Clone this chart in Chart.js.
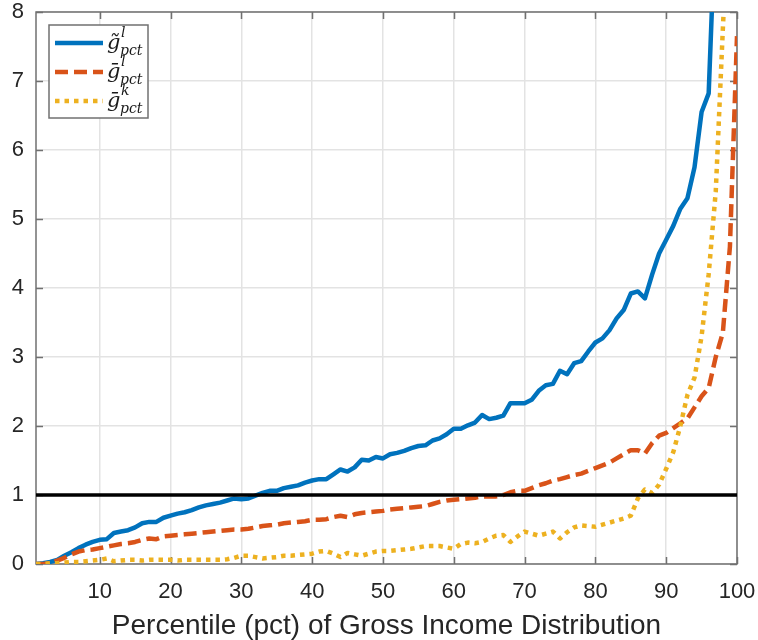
<!DOCTYPE html>
<html>
<head>
<meta charset="utf-8">
<script src="https://cdn.jsdelivr.net/npm/chart.js@4/dist/chart.umd.min.js"></script>
<style>
  html, body { margin: 0; padding: 0; background: #ffffff; }
  canvas { display: block; }
</style>
</head>
<body>
<canvas id="growthChart" width="758" height="640"></canvas>
<script>
// Percentile of the gross income distribution
const percentiles = [
  1, 2, 3, 4, 5, 6, 7, 8, 9, 10,
  11, 12, 13, 14, 15, 16, 17, 18, 19, 20,
  21, 22, 23, 24, 25, 26, 27, 28, 29, 30,
  31, 32, 33, 34, 35, 36, 37, 38, 39, 40,
  41, 42, 43, 44, 45, 46, 47, 48, 49, 50,
  51, 52, 53, 54, 55, 56, 57, 58, 59, 60,
  61, 62, 63, 64, 65, 66, 67, 68, 69, 70,
  71, 72, 73, 74, 75, 76, 77, 78, 79, 80,
  81, 82, 83, 84, 85, 86, 87, 88, 89, 90,
  91, 92, 93, 94, 95, 96, 97, 98, 99, 100
];

// g~^l_pct
const gTildeL = [
  0.00, 0.01, 0.03, 0.06, 0.12, 0.17, 0.23, 0.28, 0.32, 0.35,
  0.36, 0.45, 0.47, 0.49, 0.53, 0.59, 0.61, 0.61, 0.67, 0.70,
  0.73, 0.75, 0.78, 0.82, 0.85, 0.87, 0.89, 0.92, 0.95, 0.94,
  0.95, 0.99, 1.03, 1.06, 1.06, 1.10, 1.12, 1.14, 1.18, 1.21,
  1.23, 1.23, 1.30, 1.37, 1.34, 1.40, 1.51, 1.50, 1.55, 1.53,
  1.59, 1.61, 1.64, 1.68, 1.71, 1.72, 1.79, 1.82, 1.88, 1.96,
  1.96, 2.01, 2.05, 2.16, 2.10, 2.12, 2.15, 2.33, 2.33, 2.33,
  2.38, 2.51, 2.59, 2.61, 2.80, 2.75, 2.91, 2.94, 3.08, 3.21,
  3.27, 3.39, 3.56, 3.68, 3.92, 3.95, 3.85, 4.19, 4.50, 4.70,
  4.90, 5.15, 5.30, 5.75, 6.55, 6.82, 9.50, 11.5, 14.0, 18.0
];

// g-bar^l_pct
const gBarL = [
  0.00, 0.00, 0.01, 0.05, 0.09, 0.14, 0.18, 0.20, 0.21, 0.23,
  0.25, 0.27, 0.29, 0.30, 0.32, 0.35, 0.37, 0.36, 0.40, 0.41,
  0.42, 0.43, 0.44, 0.45, 0.46, 0.47, 0.48, 0.49, 0.50, 0.50,
  0.51, 0.53, 0.55, 0.56, 0.57, 0.59, 0.60, 0.61, 0.62, 0.64,
  0.64, 0.65, 0.68, 0.70, 0.68, 0.72, 0.74, 0.75, 0.76, 0.77,
  0.79, 0.80, 0.81, 0.82, 0.83, 0.84, 0.87, 0.90, 0.92, 0.93,
  0.94, 0.95, 0.96, 0.98, 0.98, 0.98, 1.00, 1.04, 1.06, 1.06,
  1.10, 1.14, 1.17, 1.21, 1.23, 1.26, 1.29, 1.31, 1.35, 1.39,
  1.43, 1.47, 1.53, 1.59, 1.65, 1.65, 1.60, 1.75, 1.86, 1.90,
  1.97, 2.04, 2.11, 2.27, 2.43, 2.55, 3.00, 3.35, 4.60, 7.65
];

// g-bar^k_pct
const gBarK = [
  0.00, 0.00, 0.01, 0.01, 0.02, 0.03, 0.03, 0.04, 0.05, 0.06,
  0.08, 0.04, 0.05, 0.06, 0.06, 0.05, 0.06, 0.06, 0.06, 0.06,
  0.05, 0.06, 0.06, 0.06, 0.06, 0.06, 0.06, 0.07, 0.09, 0.12,
  0.12, 0.10, 0.08, 0.09, 0.10, 0.12, 0.12, 0.13, 0.14, 0.15,
  0.18, 0.19, 0.15, 0.10, 0.16, 0.14, 0.12, 0.15, 0.18, 0.19,
  0.19, 0.20, 0.21, 0.22, 0.24, 0.26, 0.26, 0.26, 0.24, 0.22,
  0.29, 0.31, 0.30, 0.32, 0.37, 0.41, 0.42, 0.32, 0.40, 0.47,
  0.44, 0.41, 0.44, 0.47, 0.37, 0.46, 0.53, 0.56, 0.55, 0.54,
  0.57, 0.60, 0.63, 0.66, 0.70, 0.95, 1.08, 1.03, 1.15, 1.38,
  1.62, 2.00, 2.45, 2.70, 3.30, 4.20, 5.40, 7.75, 10.0, 12.0
];

// Axis ticks and the reference level
const xTickValues = [10, 20, 30, 40, 50, 60, 70, 80, 90, 100];
const yTickValues = [0, 1, 2, 3, 4, 5, 6, 7, 8];
const referenceLevel = 1;
const xAxisTitle = 'Percentile (pct) of Gross Income Distribution';

// Legend entries: accent over g, superscript, subscript
const legendEntries = [
  { accent: '\u0303', sup: 'l', sub: 'pct' },
  { accent: '\u0304', sup: 'l', sub: 'pct' },
  { accent: '\u0304', sup: 'k', sub: 'pct' }
];

const BLUE = '#0072BD';
const ORANGE = '#D95319';
const YELLOW = '#EDB120';
const AXIS = '#262626';
const GRID = '#e3e3e3';

const toPoints = (ys) => percentiles.map((p, i) => ({ x: p, y: ys[i] }));

const seriesStyles = [
  { data: gTildeL, color: BLUE, dash: [], width: 4.5 },
  { data: gBarL, color: ORANGE, dash: [13, 6], width: 4.5 },
  { data: gBarK, color: YELLOW, dash: [4.5, 5], width: 4.5 }
];

// Box around the plot area with inward ticks on all four sides
const framePlugin = {
  id: 'frameWithInnerTicks',
  beforeDatasetsDraw(chart) {
    const { ctx, chartArea: a, scales } = chart;
    const len = 7;
    ctx.save();
    ctx.strokeStyle = '#707070';
    ctx.lineWidth = 1.5;
    ctx.beginPath();
    xTickValues.forEach(v => {
      const px = Math.round(scales.x.getPixelForValue(v)) + 0.5;
      ctx.moveTo(px, a.bottom); ctx.lineTo(px, a.bottom - len);
      ctx.moveTo(px, a.top); ctx.lineTo(px, a.top + len);
    });
    yTickValues.forEach(v => {
      const py = Math.round(scales.y.getPixelForValue(v)) + 0.5;
      ctx.moveTo(a.left, py); ctx.lineTo(a.left + len, py);
      ctx.moveTo(a.right, py); ctx.lineTo(a.right - len, py);
    });
    ctx.stroke();
    ctx.strokeRect(a.left, a.top, a.right - a.left, a.bottom - a.top);
    ctx.restore();
  }
};

// Legend with math-style labels
const mathLegendPlugin = {
  id: 'mathLegend',
  afterDraw(chart) {
    const { ctx, chartArea: a } = chart;
    const left = a.left + 13, top = a.top + 13, w = 99, h = 93;
    ctx.save();
    ctx.fillStyle = '#ffffff';
    ctx.fillRect(left, top, w, h);
    ctx.strokeStyle = '#707070';
    ctx.lineWidth = 1.5;
    ctx.strokeRect(left, top, w, h);
    legendEntries.forEach((entry, i) => {
      const cy = top + 18 + i * 29;
      const st = seriesStyles[i];
      ctx.strokeStyle = st.color;
      ctx.lineWidth = st.width;
      ctx.lineCap = 'butt';
      ctx.setLineDash(st.dash);
      ctx.beginPath();
      ctx.moveTo(left + 6, cy);
      ctx.lineTo(left + 54, cy);
      ctx.stroke();
      ctx.setLineDash([]);
      const tx = left + 58;
      ctx.fillStyle = '#1a1a1a';
      ctx.textBaseline = 'alphabetic';
      ctx.textAlign = 'left';
      ctx.font = 'italic 21px "DejaVu Serif", "Liberation Serif", serif';
      ctx.fillText('g' + entry.accent, tx, cy + 6);
      ctx.font = 'italic 14px "DejaVu Serif", "Liberation Serif", serif';
      ctx.fillText(entry.sup, tx + 14, cy - 6);
      ctx.fillText(entry.sub, tx + 13, cy + 12);
    });
    ctx.restore();
  }
};

const datasets = seriesStyles.map((s, i) => ({
  data: toPoints(s.data),
  borderColor: s.color,
  borderWidth: s.width,
  borderDash: s.dash,
  borderCapStyle: 'butt',
  borderJoinStyle: 'round',
  pointRadius: 0,
  tension: 0,
  fill: false,
  order: 3 - i
}));

datasets.push({
  data: [
    { x: percentiles[0], y: referenceLevel },
    { x: percentiles[percentiles.length - 1], y: referenceLevel }
  ],
  borderColor: '#000000',
  borderWidth: 3.5,
  pointRadius: 0,
  fill: false,
  order: 0
});

const tickFont = { family: '"Liberation Sans", Arial, sans-serif', size: 22 };

new Chart(document.getElementById('growthChart'), {
  type: 'line',
  data: { datasets },
  options: {
    responsive: false,
    animation: false,
    devicePixelRatio: 1,
    layout: { padding: { top: 12, right: 21, left: 0, bottom: 0 } },
    plugins: { legend: { display: false }, tooltip: { enabled: false } },
    scales: {
      x: {
        type: 'linear',
        min: 1,
        max: 100,
        afterBuildTicks: (scale) => { scale.ticks = xTickValues.map(v => ({ value: v })); },
        afterFit: (scale) => {
          scale.height = 76;
          scale.paddingLeft = 0;
          scale.paddingRight = 0;
        },
        grid: { color: GRID, lineWidth: 1.5, drawTicks: false },
        border: { display: false },
        ticks: { font: tickFont, color: AXIS, padding: 15, maxRotation: 0, autoSkip: false },
        title: {
          display: true,
          text: xAxisTitle,
          font: { family: '"Liberation Sans", Arial, sans-serif', size: 28, lineHeight: 1.0 },
          color: AXIS,
          padding: { top: 0, bottom: 0 }
        }
      },
      y: {
        type: 'linear',
        min: 0,
        max: 8,
        afterBuildTicks: (scale) => { scale.ticks = yTickValues.map(v => ({ value: v })); },
        afterFit: (scale) => {
          scale.width = 36;
          scale.paddingTop = 0;
          scale.paddingBottom = 0;
        },
        grid: { color: GRID, lineWidth: 1.5, drawTicks: false },
        border: { display: false },
        ticks: { font: tickFont, color: AXIS, padding: 12 }
      }
    }
  },
  plugins: [framePlugin, mathLegendPlugin]
});
</script>
</body>
</html>
